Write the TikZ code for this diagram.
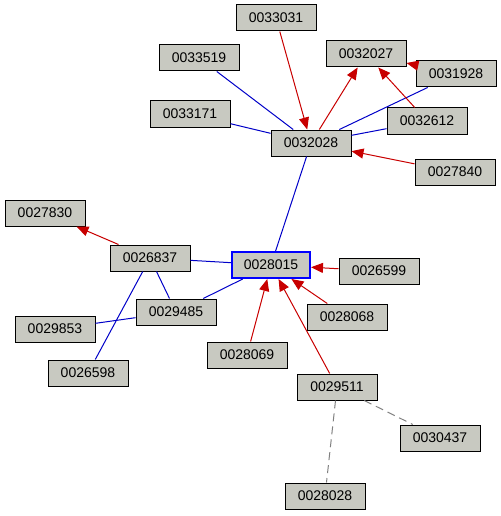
\documentclass[tikz,border=0pt]{standalone}
\usepackage{fontspec}
\setmainfont{Liberation Sans}
\usetikzlibrary{arrows.meta}
\definecolor{boxfill}{RGB}{200,201,193}
\definecolor{redline}{RGB}{200,0,0}
\definecolor{blueline}{RGB}{0,0,200}
\begin{document}
\begin{tikzpicture}[x=1pt,y=-1pt,
  nd/.style={draw=black,fill=boxfill,line width=1pt,minimum width=80pt,minimum height=26pt,inner sep=0pt,font=\fontsize{14}{16}\selectfont},
  mainnd/.style={nd,draw=blue,line width=2pt,minimum width=78pt},
  dep/.style={draw=redline,line width=1pt,-{Triangle[length=12pt,width=10pt]}},
  rel/.style={draw=blueline,line width=1pt},
  weak/.style={draw=gray,line width=1pt,dash pattern=on 8pt off 5pt}]
\useasboundingbox (0,0) rectangle (500,516);
\node[nd] (n33031) at (276,18) {0033031};
\node[nd] (n33519) at (199,58) {0033519};
\node[nd] (n32027) at (366,54) {0032027};
\node[nd] (n31928) at (456,74) {0031928};
\node[nd] (n33171) at (190,114) {0033171};
\node[nd] (n32612) at (427,121) {0032612};
\node[nd] (n32028) at (311,143) {0032028};
\node[nd] (n27840) at (455,172) {0027840};
\node[nd] (n27830) at (45,213) {0027830};
\node[nd] (n26837) at (150,258) {0026837};
\node[mainnd] (n28015) at (271,265) {0028015};
\node[nd] (n26599) at (379,271) {0026599};
\node[nd] (n29485) at (176,312) {0029485};
\node[nd] (n28068) at (347,317) {0028068};
\node[nd] (n29853) at (55,329) {0029853};
\node[nd] (n28069) at (247,355) {0028069};
\node[nd] (n26598) at (88,373) {0026598};
\node[nd] (n29511) at (337,387) {0029511};
\node[nd] (n30437) at (440,438) {0030437};
\node[nd] (n28028) at (325,496) {0028028};
% blue relations
\draw[rel] (n33519) -- (n32028);
\draw[rel] (n33171) -- (n32028);
\draw[rel] (n31928) -- (n32028);
\draw[rel] (n32612) -- (n32028);
\draw[rel] (n32028) -- (n28015);
\draw[rel] (n26837) -- (n28015);
\draw[rel] (n26837) -- (n29485);
\draw[rel] (n26837) -- (n26598);
\draw[rel] (n29485) -- (n28015);
\draw[rel] (n29853) -- (n29485);
% red dependencies
\draw[dep] (n33031) -- (n32028);
\draw[dep] (n32028) -- (n32027);
\draw[dep] (n32612) -- (n32027);
\draw[dep] (n31928) -- (n32027);
\draw[dep] (n27840) -- (n32028);
\draw[dep] (n26837) -- (n27830);
\draw[dep] (n26599) -- (n28015);
\draw[dep] (n28068) -- (n28015);
\draw[dep] (n28069) -- (n28015);
\draw[dep] (n29511) -- (n28015);
% gray dashed
\draw[weak] (n29511) -- (n30437);
\draw[weak] (n29511) -- (n28028);
\end{tikzpicture}
\end{document}
